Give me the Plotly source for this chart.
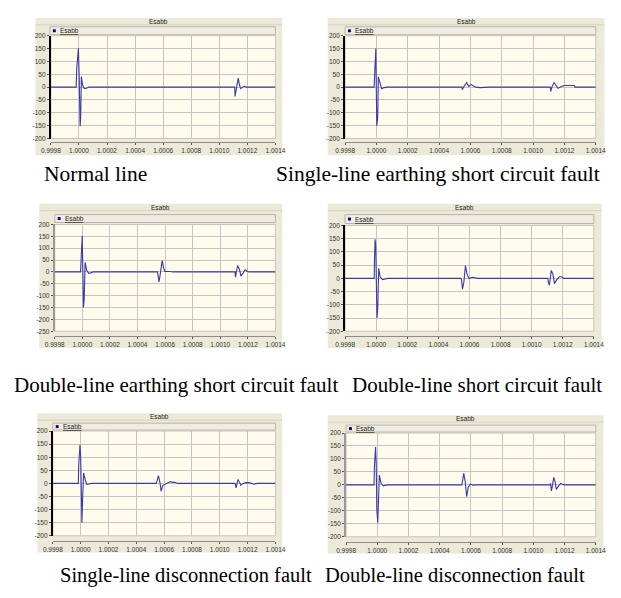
import plotly.graph_objects as go

W, H = 621, 598

# ---------------- data (time in s, value) ----------------
t_normal = [0.9998, 0.99998, 0.999984, 0.999996, 1.000002, 1.000008, 1.000012, 1.000017,
            1.000026, 1.000035, 1.000047, 1.00007, 1.00111, 1.001112, 1.001122, 1.001135,
            1.001145, 1.001153, 1.001165, 1.001176, 1.001195, 1.0014]
v_normal = [0, 0, 73, 151, 30, -152, -120, 41, 8, -4, -6, 0, 0, -36, 0, 35, 5, -6, 0, 3, 0, 0]

t_sle = [0.9998, 0.999985, 0.999987, 0.999992, 0.999996, 1.000002, 1.000008, 1.000012,
         1.000022, 1.000033, 1.000047, 1.000068, 1.000545, 1.000548, 1.000556, 1.000576,
         1.000589, 1.000605, 1.000634, 1.000665, 1.000716, 1.00111, 1.001112, 1.00112,
         1.001134, 1.001149, 1.001159, 1.00118, 1.0012, 1.001262, 1.001268, 1.0014]
v_sle = [0, 0, 28, 125, 150, -150, -120, 40, 22, -6, -2, 0, 0, -10, 0, 18, 3, 10, 0, -2, 0,
         0, -17, 0, 18, 3, -5, 2, 6, 6, 0, 0]

t_dle = [0.9998, 0.999987, 0.999989, 0.999994, 0.999999, 1.000004, 1.000008, 1.000013,
         1.00002, 1.000032, 1.000046, 1.000062, 1.000078, 1.000545, 1.000549, 1.000556,
         1.000565, 1.000579, 1.000588, 1.000598, 1.000635, 1.000658, 1.001107, 1.00111,
         1.001117, 1.001126, 1.00114, 1.00115, 1.001166, 1.00118, 1.001197, 1.001208, 1.0014]
v_dle = [0, 0, 27, 124, 152, -8, -150, -118, 40, 6, -6, -4, 0, 0, -22, -42, -8, 48, 20, 2,
         2, 0, 0, -22, 0, 27, 9, -18, -4, 9, 2, 0, 0]

t_dls = [0.9998, 0.999987, 0.999989, 0.999993, 0.999997, 1.000001, 1.000005, 1.00001,
         1.000016, 1.000026, 1.000041, 1.000066, 1.000075, 1.000545, 1.000549, 1.000555,
         1.000564, 1.000574, 1.000584, 1.000597, 1.000618, 1.000653, 1.001104, 1.001107,
         1.001114, 1.00112, 1.001126, 1.001136, 1.001147, 1.001161, 1.001178, 1.001195,
         1.001203, 1.0014]
v_dls = [0, 0, 73, 148, 123, -100, -150, -113, 38, 5, -5, -1, 0, 0, -7, -41, -14, 48, 17,
         -1, 4, 0, 0, -14, -26, 0, 30, 17, -20, -5, 6, 6, 0, 0]

t_sld = [0.9998, 0.999983, 0.999986, 0.999995, 1.0, 1.000004, 1.000009, 1.000014, 1.000021,
         1.000032, 1.000044, 1.00006, 1.000079, 1.000544, 1.000548, 1.000559, 1.000571,
         1.000578, 1.00059, 1.000606, 1.000641, 1.000676, 1.000699, 1.00111, 1.001117,
         1.001124, 1.001131, 1.001142, 1.001151, 1.001168, 1.001186, 1.001221, 1.001244,
         1.001268, 1.0014]
v_sld = [0, 0, 71, 147, 103, -99, -150, -61, 40, 15, -4, -2, 0, 0, 8, 30, 0, -30, -8, -4,
         6, 4, 0, 0, -17, 0, 15, 4, -7, 0, 3, 2, -3, 0, 0]

t_dld = [0.9998, 0.999979, 0.999982, 0.999989, 0.999993, 0.999997, 1.000003, 1.000007,
         1.000013, 1.000024, 1.000038, 1.000053, 1.000074, 1.000542, 1.000546, 1.000554,
         1.000563, 1.000573, 1.000583, 1.000596, 1.000612, 1.000633, 1.001107, 1.00111,
         1.001116, 1.001122, 1.001131, 1.001139, 1.001147, 1.001162, 1.001176, 1.001193,
         1.001203, 1.0014]
v_dld = [0, 0, 76, 146, 83, -96, -146, -45, 38, 6, -4, -1, 0, 0, 19, 45, 13, -45, -9, 4,
         -1, 0, 0, 6, -23, 0, 29, 13, -17, -4, 6, 1, 0, 0]

captions = ["Normal line", "Single-line earthing short circuit fault",
            "Double-line earthing short circuit fault", "Double-line short circuit fault",
            "Single-line disconnection fault", "Double-line disconnection fault"]
series_name = "Esabb"

y_ticks_200 = [200, 150, 100, 50, 0, -50, -100, -150, -200]
y_ticks_250 = [200, 150, 100, 50, 0, -50, -100, -150, -200, -250]
x_ticks = [0.9998, 1.0000, 1.0002, 1.0004, 1.0006, 1.0008, 1.0010, 1.0012, 1.0014]
x_tick_labels = ["0.9998", "1.0000", "1.0002", "1.0004", "1.0006", "1.0008",
                 "1.0010", "1.0012", "1.0014"]

# ---------------- layout geometry (pixels) ----------------
def px(x):
    return x / W

def py(y):
    return 1 - y / H

panels = [
    dict(t=t_normal, v=v_normal, plot=(34, 266, 24, 128), frame=(18, 273, 6, 145),
         leg=(33, 266, 15, 23), yt=y_ticks_200, yr=(-200, 200), axy=132, left="#000000",
         cap=(80, 164), cs=21.5),
    dict(t=t_sle, v=v_sle, plot=(338, 597, 24, 128), frame=(320, 606, 6, 145),
         leg=(338, 597, 15, 23), yt=y_ticks_200, yr=(-200, 200), axy=132, left="#000000",
         cap=(434, 164), cs=21.5),
    dict(t=t_dle, v=v_dle, plot=(38, 266, 215, 323), frame=(22, 273, 194, 340),
         leg=(38, 266, 205, 213), yt=y_ticks_250, yr=(-250, 200), axy=328, left="#9a9a9a",
         cap=(163, 377), cs=21),
    dict(t=t_dls, v=v_dls, plot=(338, 595, 216, 323), frame=(320, 603, 194, 340),
         leg=(338, 595, 205, 214), yt=y_ticks_200, yr=(-200, 200), axy=328, left="#000000",
         cap=(474, 377), cs=21),
    dict(t=t_sld, v=v_sld, plot=(36, 266, 424, 530), frame=(20, 273, 406, 547),
         leg=(36, 266, 416, 423), yt=y_ticks_200, yr=(-200, 200), axy=535, left="#000000",
         cap=(174, 570), cs=20.5),
    dict(t=t_dld, v=v_dld, plot=(339, 597, 426, 531), frame=(320, 605, 408, 548),
         leg=(339, 597, 418, 425), yt=y_ticks_200, yr=(-200, 200), axy=536, left="#9a9a9a",
         cap=(452, 570), cs=20.5),
]

fig = go.Figure()
shapes = []
annotations = []
layout_axes = {}
xr = [0.9998, 1.0014]

for i, p in enumerate(panels, start=1):
    x0, x1, y0, y1 = p["plot"]
    fx0, fx1, fy0, fy1 = p["frame"]
    lx0, lx1, ly0, ly1 = p["leg"]
    xs = "" if i == 1 else str(i)
    ox = str(i + 6)

    shapes.append(dict(type="rect", xref="paper", yref="paper", x0=px(fx0), x1=px(fx1),
                       y0=py(fy1), y1=py(fy0), fillcolor="#ECE9D8", line=dict(width=0),
                       layer="below"))
    shapes.append(dict(type="line", xref="paper", yref="paper", x0=px(fx0), x1=px(fx1),
                       y0=py(fy0 + 7), y1=py(fy0 + 7), line=dict(color="#D6D2C2", width=1),
                       layer="below"))
    shapes.append(dict(type="rect", xref="paper", yref="paper", x0=px(lx0), x1=px(lx1),
                       y0=py(ly1), y1=py(ly0), fillcolor="#EFEDE3",
                       line=dict(color="#B8B4A6", width=1), layer="below"))
    shapes.append(dict(type="rect", xref="paper", yref="paper", x0=px(x0), x1=px(x1),
                       y0=py(y1), y1=py(y0), fillcolor="#FFFCEE",
                       line=dict(color="#C8C4B8", width=1), layer="below"))
    shapes.append(dict(type="rect", xref="paper", yref="paper", x0=px(lx0 + 3),
                       x1=px(lx0 + 6), y0=py((ly0 + ly1) / 2 + 1.5),
                       y1=py((ly0 + ly1) / 2 - 1.5), fillcolor="#000080",
                       line=dict(width=0)))
    annotations.append(dict(text="<u>" + series_name + "</u>", xref="paper", yref="paper",
                            x=px(lx0 + 8), y=py((ly0 + ly1) / 2), xanchor="left",
                            yanchor="middle", showarrow=False,
                            font=dict(family="Liberation Sans, Arial", size=6.5,
                                      color="#222222")))
    annotations.append(dict(text=series_name, xref="paper", yref="paper",
                            x=px((fx0 + fx1) / 2), y=py(fy0 + 3.5), xanchor="center",
                            yanchor="middle", showarrow=False,
                            font=dict(family="Liberation Sans, Arial", size=6.5,
                                      color="#222222")))
    annotations.append(dict(text=captions[i - 1], xref="paper", yref="paper",
                            x=px(p["cap"][0]), y=py(p["cap"][1]), xanchor="center",
                            yanchor="middle", showarrow=False,
                            font=dict(family="Liberation Serif, Times New Roman",
                                      size=p["cs"], color="#000000")))

    fig.add_trace(go.Scatter(x=p["t"], y=p["v"], mode="lines", xaxis="x" + xs,
                             yaxis="y" + xs, line=dict(color="#3A3AA8", width=1.1),
                             showlegend=False, hoverinfo="skip"))
    fig.add_trace(go.Scatter(x=[x_ticks[0]], y=[0], mode="markers", xaxis="x" + ox,
                             yaxis="y" + xs, marker=dict(opacity=0, size=1),
                             showlegend=False, hoverinfo="skip"))

    tick_font = dict(family="Liberation Sans, Arial", size=6.5, color="#333333")
    layout_axes["xaxis" + xs] = dict(domain=[px(x0), px(x1)], range=xr, anchor="y" + xs,
                                     tickvals=x_ticks, showticklabels=False,
                                     showgrid=True, gridcolor="#C4C4C4", gridwidth=1,
                                     zeroline=False, showline=False, ticks="")
    layout_axes["xaxis" + ox] = dict(domain=[px(x0), px(x1)], range=xr, anchor="free",
                                     overlaying="x" + xs, position=py(p["axy"]),
                                     tickvals=x_ticks, ticktext=x_tick_labels,
                                     showgrid=False, zeroline=False, showline=True,
                                     linecolor="#8C8C8C", linewidth=1, ticks="outside",
                                     ticklen=2, tickcolor="#555555", tickfont=tick_font,
                                     side="bottom")
    layout_axes["yaxis" + xs] = dict(domain=[py(y1), py(y0)], range=list(p["yr"]),
                                     anchor="x" + xs, tickvals=p["yt"],
                                     ticktext=[str(v) for v in p["yt"]],
                                     showgrid=True, gridcolor="#C4C4C4", gridwidth=1,
                                     zeroline=False, showline=True, linecolor=p["left"],
                                     linewidth=2, ticks="outside", ticklen=2,
                                     tickcolor="#555555", tickfont=tick_font)

fig.update_layout(width=W, height=H, margin=dict(l=0, r=0, t=0, b=0),
                  paper_bgcolor="#FFFFFF", plot_bgcolor="rgba(0,0,0,0)",
                  shapes=shapes, annotations=annotations, showlegend=False,
                  **layout_axes)

fig.write_html("out.html")
